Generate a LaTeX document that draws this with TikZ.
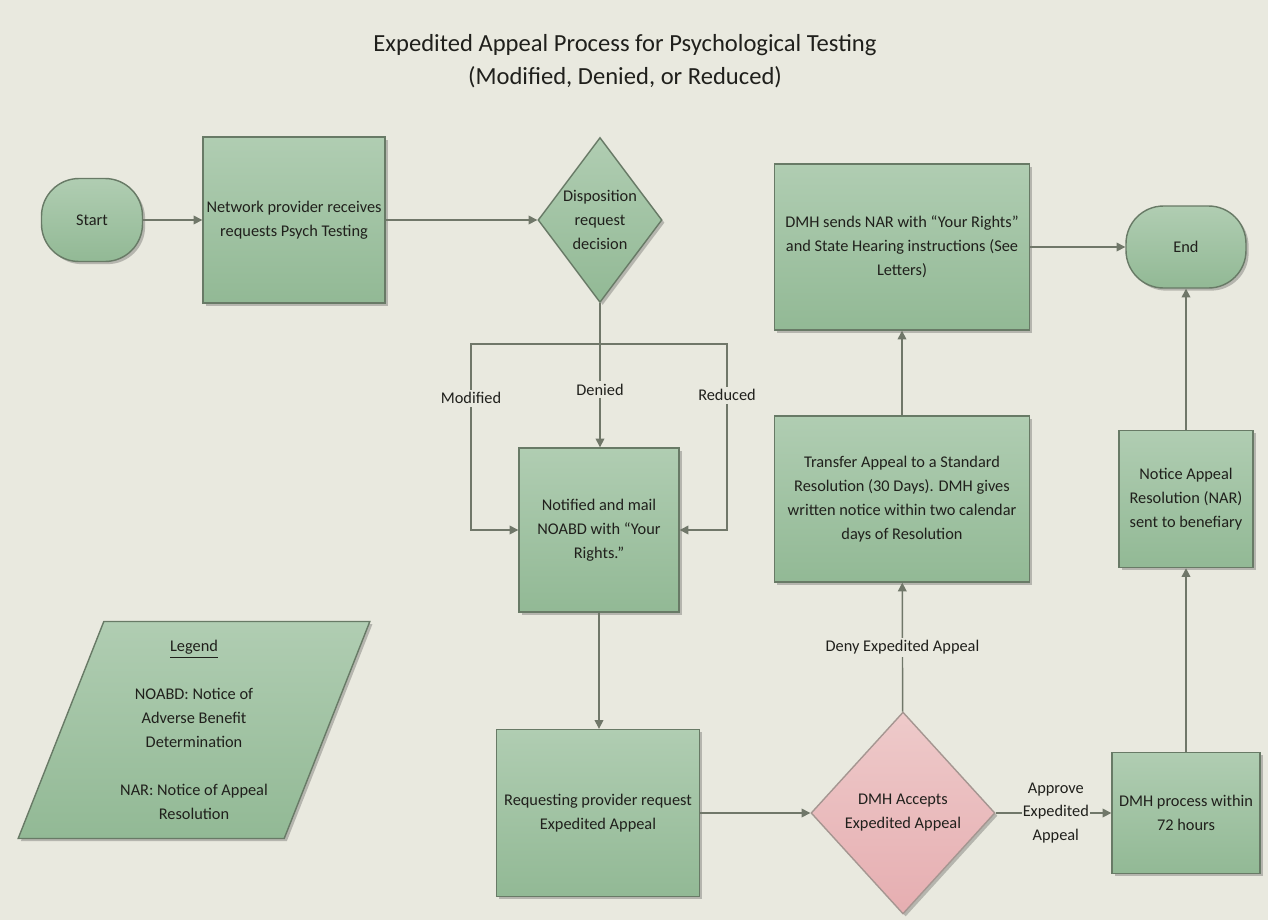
\documentclass[tikz,border=0pt]{standalone}
\usepackage{fontspec}
\setmainfont{Carlito}
\usetikzlibrary{arrows.meta,shapes.geometric,shadows}

\definecolor{bgc}{RGB}{233,233,223}
\definecolor{gtop}{RGB}{176,205,178}
\definecolor{gbot}{RGB}{146,185,149}
\definecolor{gline}{RGB}{104,122,102}
\definecolor{ptop}{RGB}{238,202,202}
\definecolor{pbot}{RGB}{230,174,177}
\definecolor{pline}{RGB}{165,150,145}
\definecolor{linec}{RGB}{112,119,105}
\definecolor{txt}{RGB}{32,32,28}

\begin{document}
\begin{tikzpicture}[x=0.02cm,y=-0.02cm,
  font=\fontsize{9.3}{13.6}\selectfont, text=txt,
  base/.style={draw=gline, line width=0.8pt, top color=gtop, bottom color=gbot,
    align=center, inner sep=0pt,
    drop shadow={shadow xshift=1.5pt,shadow yshift=-1.5pt,fill=black,opacity=.22}},
  procbox/.style={base, rectangle},
  termbox/.style={base, rectangle, rounded corners=0.75cm},
  decbox/.style={base, diamond, aspect=0.75},
  acceptbox/.style={base, diamond, aspect=0.9, draw=pline, top color=ptop, bottom color=pbot},
  legendbox/.style={base, trapezium, trapezium left angle=68.6, trapezium right angle=111.4,
    trapezium stretches=true},
  arr/.style={draw=linec, line width=0.8pt, -{Triangle[length=5pt,width=5pt]}},
  plain/.style={draw=linec, line width=0.8pt},
  lbl/.style={fill=bgc, inner sep=1.5pt, align=center}]

\fill[bgc] (0,0) rectangle (1268,920);

\node[align=center, font=\fontsize{14}{18.7}\selectfont] (title) at (625,61)
  {Expedited Appeal Process for Psychological Testing\\(Modified, Denied, or Reduced)};

\node[termbox, minimum width=2.02cm, minimum height=1.66cm] (start) at (92,220) {Start};
\node[procbox, minimum width=3.64cm, minimum height=3.32cm] (net) at (294,220)
  {Network provider receives\\requests Psych Testing};
\node[decbox, minimum width=2.48cm, minimum height=3.3cm] (dispo) at (600,220)
  {Disposition\\request\\decision};
\node[procbox, minimum width=3.2cm, minimum height=3.28cm] (notif) at (599,530)
  {Notified and mail\\NOABD with “Your\\Rights.”};
\node[procbox, minimum width=4.06cm, minimum height=3.34cm] (req) at (598,813)
  {Requesting provider request\\Expedited Appeal};
\node[acceptbox, minimum width=3.68cm, minimum height=4.04cm] (accept) at (903,813)
  {DMH Accepts\\Expedited Appeal};
\node[procbox, minimum width=2.96cm, minimum height=2.42cm] (proc) at (1186,813)
  {DMH process within\\72 hours};
\node[procbox, minimum width=2.68cm, minimum height=2.74cm] (notice) at (1186,499)
  {Notice Appeal\\Resolution (NAR)\\sent to benefiary};
\node[procbox, minimum width=5.1cm, minimum height=3.32cm] (transfer) at (902,499)
  {Transfer Appeal to a Standard\\Resolution (30 Days). DMH gives\\written notice within two calendar\\days of Resolution};
\node[procbox, minimum width=5.1cm, minimum height=3.32cm] (sends) at (902,247)
  {DMH sends NAR with “Your Rights”\\and State Hearing instructions (See\\Letters)};
\node[termbox, minimum width=2.4cm, minimum height=1.64cm] (end) at (1186,247) {End};

\node[legendbox, minimum width=7.04cm, minimum height=4.34cm] (legend) at (194,730)
  {\underline{Legend}\\ \mbox{}\\NOABD: Notice of\\Adverse Benefit\\Determination\\ \mbox{}\\NAR: Notice of Appeal\\Resolution};

\draw[arr] (start) -- (net);
\draw[arr] (net) -- (dispo);
\coordinate (split) at (600,344);
\draw[plain] (dispo.south) -- (split);
\draw[arr] (split) -- ++(-129,0) |- (notif.west) node[lbl, pos=0.146] {Modified};
\draw[arr] (split) -- (split |- notif.north) node[lbl, pos=0.44] {Denied};
\draw[arr] (split) -- ++(127,0) |- (notif.east) node[lbl, pos=0.138] {Reduced};
\draw[arr] (notif) -- (notif |- req.north);
\draw[arr] (req) -- (accept);
\draw[arr] (accept) -- (transfer) node[lbl, midway] {Deny Expedited Appeal};
\draw[arr] (transfer) -- (sends);
\draw[arr] (sends) -- (end);
\draw[arr] (accept) -- (proc) node[lbl, pos=0.52, inner sep=0.5pt] {Approve\\Expedited\\Appeal};
\draw[arr] (proc) -- (notice);
\draw[arr] (notice) -- (end);
\end{tikzpicture}
\end{document}
